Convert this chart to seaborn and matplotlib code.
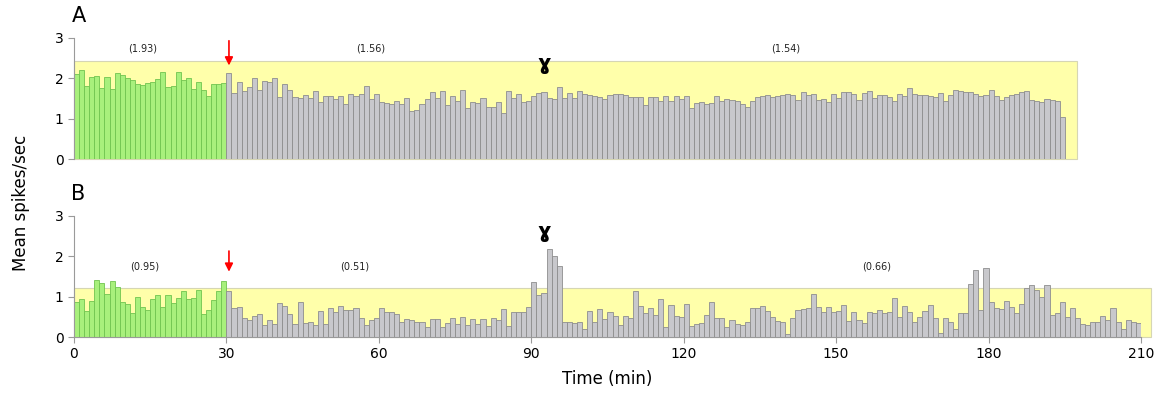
import numpy as np
import pandas as pd
import seaborn as sns
import matplotlib.pyplot as plt
from matplotlib.patches import Rectangle

# mean spikes/sec per 1-min bin, panel A (minutes 0..194)
a_base = [2.10, 2.20, 1.81, 2.03, 2.07, 1.75, 2.03, 1.74, 2.13, 2.08,
          2.00, 1.97, 1.85, 1.83, 1.88, 1.92, 1.98, 2.15, 1.79, 1.82,
          2.15, 1.97, 2.02, 1.74, 1.90, 1.72, 1.56, 1.85, 1.86, 1.88]
a_post = [2.13, 1.63,
          1.92, 1.69, 1.78, 2.00, 1.72, 1.93, 1.90, 2.02, 1.54, 1.86,
          1.72, 1.54, 1.50, 1.59, 1.52, 1.68, 1.42, 1.57, 1.57, 1.49,
          1.56, 1.36, 1.62, 1.56, 1.61, 1.81, 1.49, 1.62, 1.41, 1.39,
          1.36, 1.44, 1.36, 1.52, 1.18,
          1.22, 1.36, 1.49, 1.67, 1.52, 1.69, 1.34, 1.57, 1.44, 1.71,
          1.26, 1.41, 1.38, 1.50, 1.30, 1.30, 1.41, 1.13, 1.69, 1.52,
          1.61, 1.42, 1.44, 1.55, 1.63, 1.67, 1.50, 1.49, 1.79, 1.52,
          1.63, 1.50, 1.69, 1.61,
          1.59, 1.57, 1.54, 1.49, 1.59, 1.62, 1.62, 1.59, 1.54,
          1.54, 1.54, 1.34, 1.54, 1.54, 1.44, 1.57, 1.44, 1.57, 1.49,
          1.57, 1.26, 1.38, 1.41, 1.36, 1.38, 1.57, 1.44, 1.49, 1.46,
          1.44, 1.36, 1.30, 1.44, 1.54, 1.57,
          1.59, 1.54, 1.57, 1.59, 1.62, 1.59, 1.46, 1.66, 1.59, 1.61,
          1.46, 1.49, 1.41, 1.62, 1.52, 1.66, 1.66, 1.62, 1.46, 1.63,
          1.69, 1.52, 1.59, 1.59, 1.54, 1.44, 1.61, 1.57, 1.75, 1.62,
          1.59, 1.59, 1.57, 1.54,
          1.63, 1.44, 1.59, 1.71, 1.69, 1.66, 1.67, 1.62, 1.57,
          1.59, 1.71, 1.57, 1.46, 1.54, 1.59, 1.62, 1.66, 1.69, 1.46,
          1.44, 1.41, 1.49, 1.46, 1.44, 1.05]

# panel B (minutes 0..209)
b_base = [0.88, 0.94, 0.65, 0.89, 1.41, 1.33, 1.07, 1.39, 1.23, 0.88,
          0.82, 0.60, 0.98, 0.75, 0.67, 0.94, 1.04, 0.74, 1.04, 0.85,
          0.96, 1.15, 0.94, 0.96, 1.17, 0.57, 0.68, 0.92, 1.13, 1.39]
b_post = [1.13,
          0.71, 0.75, 0.46, 0.42, 0.52, 0.57, 0.30, 0.41, 0.32, 0.85,
          0.77, 0.57, 0.32, 0.87, 0.35, 0.38, 0.30, 0.65, 0.32, 0.71,
          0.63, 0.77, 0.67, 0.67, 0.71, 0.46, 0.30, 0.41, 0.46, 0.71,
          0.63, 0.63, 0.57, 0.38, 0.44,
          0.42, 0.38, 0.38, 0.26, 0.44, 0.44, 0.24, 0.34, 0.46, 0.32,
          0.49, 0.30, 0.44, 0.32, 0.44, 0.27, 0.46, 0.42, 0.69, 0.27,
          0.63, 0.63, 0.63, 0.74, 1.37, 1.04, 1.10, 2.18, 2.01, 1.76,
          0.36, 0.38, 0.34, 0.36, 0.21,
          0.65, 0.36, 0.69, 0.44, 0.63, 0.52, 0.30, 0.52, 0.46, 1.13,
          0.77, 0.60, 0.71, 0.55, 0.94, 0.24, 0.79, 0.52, 0.49, 0.83,
          0.27, 0.32, 0.34, 0.55, 0.88, 0.46, 0.46, 0.26, 0.42, 0.32,
          0.30, 0.38, 0.71, 0.71, 0.77,
          0.65, 0.49, 0.40, 0.38, 0.08, 0.46, 0.67, 0.69, 0.71, 1.06,
          0.74, 0.63, 0.74, 0.63, 0.65, 0.79, 0.40, 0.63, 0.42, 0.34,
          0.63, 0.59, 0.67, 0.59, 0.63, 0.96, 0.50, 0.77, 0.63, 0.38,
          0.49, 0.65, 0.79, 0.46,
          0.10, 0.46, 0.38, 0.19, 0.60, 0.60, 1.32, 1.65, 0.67,
          1.70, 0.88, 0.71, 0.69, 0.90, 0.74, 0.60, 0.82, 1.21, 1.29,
          1.17, 0.98, 1.29, 0.55, 0.60, 0.88, 0.49, 0.71, 0.46, 0.32,
          0.30, 0.38, 0.38, 0.52, 0.42, 0.71, 0.36, 0.19, 0.42, 0.38,
          0.34]

# period means shown above the bars: (minute, text)
a_means = [(13.5, '(1.93)'), (58.3, '(1.56)'), (140.0, '(1.54)')]
b_means = [(14.0, '(0.95)'), (55.3, '(0.51)'), (158.0, '(0.66)')]

# shaded range (end minute, upper value)
a_box = (197.4, 2.43)
b_box = (211.9, 1.21)

x_ticks = [0, 30, 60, 90, 120, 150, 180, 210]

GREEN = '#a8f07c'
GREEN_EDGE = '#70c450'
GRAY = '#c8c8cc'
GRAY_EDGE = '#8e8e8e'
YELLOW = '#ffffaa'

fig = plt.figure(figsize=(11.67, 4.05), dpi=100)
axA = fig.add_axes([0.0634, 0.6074, 0.9143, 0.2988])
axB = fig.add_axes([0.0634, 0.1679, 0.9143, 0.2988])


def draw_panel(ax, base, post, box, means, letter, text_y, arrow_top, arrow_tip, gam_y):
    ax.add_patch(Rectangle((0, 0), box[0], box[1], facecolor=YELLOW,
                           edgecolor='#d6d6b4', linewidth=0.8, zorder=0,
                           clip_on=False))
    n0 = len(base)
    n1 = n0 + len(post)
    df = pd.DataFrame({'t': np.arange(n1) + 0.5,
                       'rate': base + post,
                       'phase': ['base'] * n0 + ['post'] * (n1 - n0)})
    sns.barplot(data=df, x='t', y='rate', hue='phase', native_scale=True,
                width=1, palette={'base': GREEN, 'post': GRAY}, saturation=1,
                errorbar=None, legend=False, linewidth=0.6, ax=ax, zorder=2)
    for cont, ec in zip(ax.containers, [GREEN_EDGE, GRAY_EDGE]):
        for bar in cont:
            bar.set_edgecolor(ec)
    for x, s in means:
        ax.text(x, text_y, s, ha='center', va='center', fontsize=7, color='#222222')
    ax.annotate('', xy=(n0 + 0.5, arrow_tip), xytext=(n0 + 0.5, arrow_top),
                arrowprops=dict(arrowstyle='-|>', color='red', lw=1.2,
                                mutation_scale=12), annotation_clip=False)
    ax.text(92.5, gam_y, '\u0263', ha='center', va='center', fontsize=15,
            fontweight='bold', color='black')
    ax.set_xlim(0, 210)
    ax.set_ylim(0, 3)
    ax.set_yticks([0, 1, 2, 3])
    ax.set_xticks(x_ticks)
    ax.set_xticklabels([str(t) for t in x_ticks])
    ax.set_ylabel('')
    ax.set_xlabel('')
    for sp in ['top', 'right']:
        ax.spines[sp].set_visible(False)
    for sp in ['left', 'bottom']:
        ax.spines[sp].set_color('#9a9a9a')
        ax.spines[sp].set_linewidth(0.8)
    ax.tick_params(axis='both', colors='#9a9a9a', labelcolor='black',
                   labelsize=10, length=4, width=0.8)
    ax.text(-0.5, 3.55, letter, fontsize=15, ha='left', va='center')


draw_panel(axA, a_base, a_post, a_box, a_means, 'A', 2.75, 3.0, 2.25, 2.35)
draw_panel(axB, b_base, b_post, b_box, b_means, 'B', 1.74, 2.2, 1.55, 2.6)

axA.tick_params(axis='x', length=0, labelbottom=False)
axA.spines['bottom'].set_visible(False)
axB.set_xlabel('Time (min)', fontsize=12, labelpad=6)
fig.text(0.018, 0.5, 'Mean spikes/sec', rotation=90, ha='center', va='center',
         fontsize=12)

fig.savefig('out.png', dpi=100)
